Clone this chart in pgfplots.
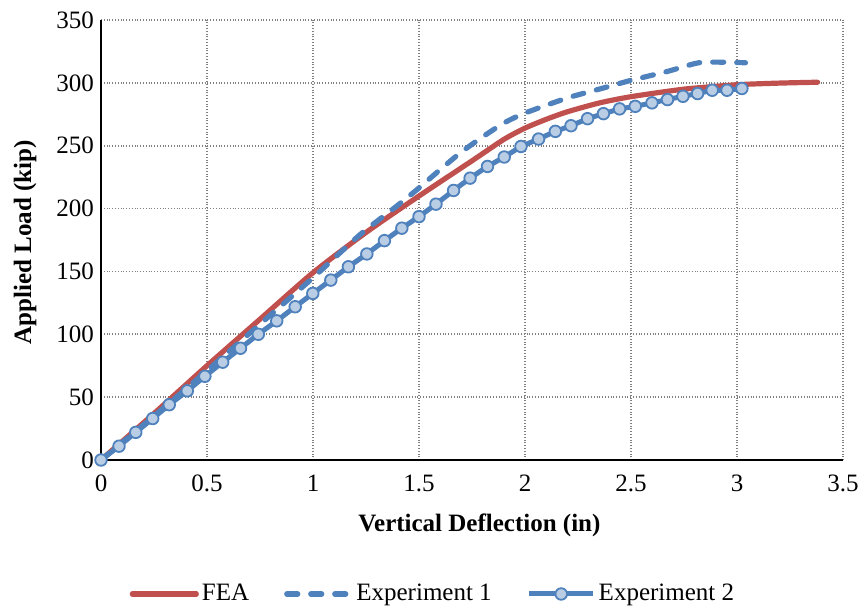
\documentclass[border=0pt]{standalone}
\usepackage{fontspec}
\setmainfont{Liberation Serif}
\usepackage{pgfplots}
\pgfplotsset{compat=1.18}
\definecolor{feared}{RGB}{192,80,77}
\definecolor{expblue}{RGB}{79,129,189}
\definecolor{markfill}{RGB}{185,205,229}

\begin{document}
\begin{tikzpicture}
\begin{axis}[
    name=ax,
    width=371pt, height=220pt, scale only axis,
    xmin=0, xmax=3.5, ymin=0, ymax=350,
    xtick={0,0.5,1,1.5,2,2.5,3,3.5},
    ytick={0,50,100,150,200,250,300,350},
    axis x line*=bottom, axis y line*=left,
    axis line style={-, line width=1pt, black},
    grid=major,
    grid style={densely dotted, black!50, line width=0.9pt},
    major tick length=0pt,
    tick label style={font=\fontsize{12.5}{14}\selectfont},
    /pgf/number format/assume math mode=true,
    xticklabel style={yshift=-4pt},
    xlabel={\textbf{Vertical Deflection (in)}},
    ylabel={\textbf{Applied Load (kip)}},
    label style={font=\fontsize{12.5}{14}\selectfont},
    xlabel style={at={(axis description cs:0.51,-0.1477)}, anchor=center},
    ylabel style={at={(axis description cs:-0.1024,0.495)}, anchor=center},
    clip=false,
    legend columns=3,
    legend style={at={(0.448,-0.3045)}, anchor=center, draw=none, fill=none,
        font=\fontsize{12.5}{14}\selectfont,
        nodes={inner sep=1.5pt},
        /tikz/every even column/.append style={column sep=16pt}},
    legend image code/.code={\draw[mark repeat=2,mark phase=2,#1] plot coordinates {(0pt,0pt) (16pt,0pt) (32pt,0pt)};},
]
\addplot[feared, line width=2.6pt, line cap=round, line join=round, smooth, tension=0.4] coordinates {
(0,0)(0.25,37)(0.5,75)(0.75,112)(1,149)(1.25,181)(1.5,210)(1.75,238)(1.9,255)(2,264)
(2.1,271)(2.2,277)(2.35,284)(2.5,289)(2.75,295)(3,298.5)(3.2,299.8)(3.38,300.5)
};
\addlegendentry{FEA}
\addplot[expblue, line width=2.6pt, dash pattern=on 5.5pt off 6.5pt, line cap=round, line join=round, smooth, tension=0.4] coordinates {
(0,0)(0.25,35)(0.5,71)(0.75,108)(1,145)(1.22,179)(1.38,200)(1.49,215)(1.6,231)(1.7,245)
(1.8,257)(1.9,268)(2,276)(2.2,288)(2.35,295)(2.5,302)(2.67,309)(2.75,313)(2.82,316)(2.9,316.5)(3.04,316)
};
\addlegendentry{Experiment 1}
\addplot[expblue, line width=2.5pt, mark=*, mark size=2.9pt,
    mark options={fill=markfill, draw=expblue, line width=0.9pt}] coordinates {
(0,0)(0.085,11)(0.164,22)(0.244,33)(0.322,44)(0.407,55)(0.49,66.6)(0.574,77.8)(0.658,88.9)(0.742,100)
(0.829,110.7)(0.916,121.9)(0.999,132.5)(1.084,143.1)(1.167,153.7)(1.254,163.9)(1.337,174.5)(1.419,184.4)
(1.5,193.6)(1.58,203.5)(1.663,214.4)(1.741,224.2)(1.823,233.5)(1.902,241.0)(1.981,249.4)(2.064,255.3)
(2.143,261.4)(2.217,265.9)(2.295,271.5)(2.37,275.5)(2.446,279.3)(2.52,281.3)(2.599,284.1)(2.672,286.7)
(2.745,289.3)(2.814,291.5)(2.883,294.1)(2.953,294.1)(3.023,295.5)
};
\addlegendentry{Experiment 2}
\end{axis}
\pgfresetboundingbox
\path ([shift={(-50.5pt,-74.5pt)}]ax.south west) rectangle ([shift={(8pt,10pt)}]ax.north east);
\end{tikzpicture}
\end{document}
